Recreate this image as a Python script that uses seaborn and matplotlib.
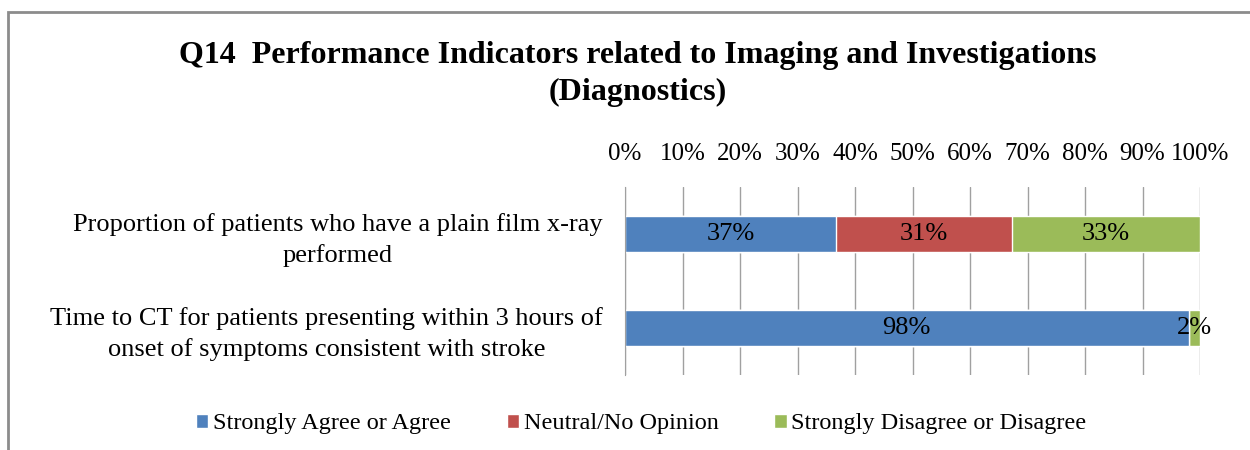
import numpy as np
import pandas as pd
import matplotlib
matplotlib.use("Agg")
import matplotlib.pyplot as plt
from matplotlib.patches import Rectangle, Patch
import seaborn as sns

# Chart data
categories = [
    "Proportion of patients who have a plain film x-ray\nperformed",
    "Time to CT for patients presenting within 3 hours of\nonset of symptoms consistent with stroke",
]
series = ["Strongly Agree or Agree", "Neutral/No Opinion", "Strongly Disagree or Disagree"]
agree = [37, 98]
neutral = [31, 0]
disagree = [33, 2]
colors = ["#4F81BD", "#C0504D", "#9BBB59"]
tick_values = [0, 10, 20, 30, 40, 50, 60, 70, 80, 90, 100]

sns.set_style("white")
plt.rcParams["font.family"] = ["Liberation Serif", "DejaVu Serif"]
plt.rcParams["text.color"] = "black"
plt.rcParams["xtick.color"] = "black"
plt.rcParams["ytick.color"] = "black"

# 100% stacked: normalise each row
raw = np.array([agree, neutral, disagree], dtype=float)
pct = raw / raw.sum(axis=0) * 100
cum = np.cumsum(pct, axis=0)

fig = plt.figure(figsize=(12.5, 4.5), dpi=100)
ax = fig.add_axes([0.5, 0.1667, 0.46, 0.4178])

# draw cumulative bars from the longest to the shortest
for i in [2, 1, 0]:
    df = pd.DataFrame({"cat": categories, "val": cum[i]})
    sns.barplot(data=df, x="val", y="cat", orient="h", color=colors[i],
                saturation=1, width=0.38, edgecolor="white", linewidth=1, ax=ax)

# labels in the middle of each segment
for j in range(len(categories)):
    start = 0
    for i in range(3):
        if raw[i, j] > 0:
            ax.text(start + pct[i, j] / 2, j, f"{raw[i, j]:.0f}%", ha="center", va="center",
                    fontsize=19, color="black")
        start += pct[i, j]

ax.set_xlim(0, 100)
ax.set_ylim(1.5, -0.5)
ax.set_xticks(tick_values)
ax.set_xticklabels([f"{v}%" for v in tick_values], fontsize=18)
ax.xaxis.tick_top()
ax.tick_params(axis="x", length=0, pad=16)
ax.grid(axis="x", color="#a0a0a0", linewidth=1)
ax.set_axisbelow(True)
ax.set_xlabel("")
ax.set_ylabel("")

ax.set_yticks([0, 1])
ax.set_yticklabels(categories, fontsize=19)
for lab in ax.get_yticklabels():
    lab.set_multialignment("center")
    lab.set_linespacing(1.4)
ax.set_yticks([-0.5, 0.5, 1.5], minor=True)
ax.tick_params(axis="y", which="major", length=0, pad=16)
ax.tick_params(axis="y", which="minor", length=10, color="#a0a0a0", width=1)
for s in ["top", "right", "bottom"]:
    ax.spines[s].set_visible(False)
ax.spines["left"].set_color("#a0a0a0")

fig.suptitle("Q14  Performance Indicators related to Imaging and Investigations\n(Diagnostics)",
             x=0.51, y=0.91, fontsize=23, fontweight="bold", linespacing=1.4)

handles = [Patch(facecolor=c, label=s) for c, s in zip(colors, series)]
fig.legend(handles=handles, loc="center", bbox_to_anchor=(0.513, 0.058), ncol=3, frameon=False,
           fontsize=17.5, handlelength=0.5, handleheight=0.5, columnspacing=2.3, handletextpad=0.2)

# chart area border
fig.patches.append(Rectangle((8 / 1250, -0.2), 1.2, 1.2 - 12 / 450, transform=fig.transFigure,
                             fill=False, edgecolor="#8c8c8c", linewidth=2, clip_on=False))

fig.savefig("out.png", dpi=100)
